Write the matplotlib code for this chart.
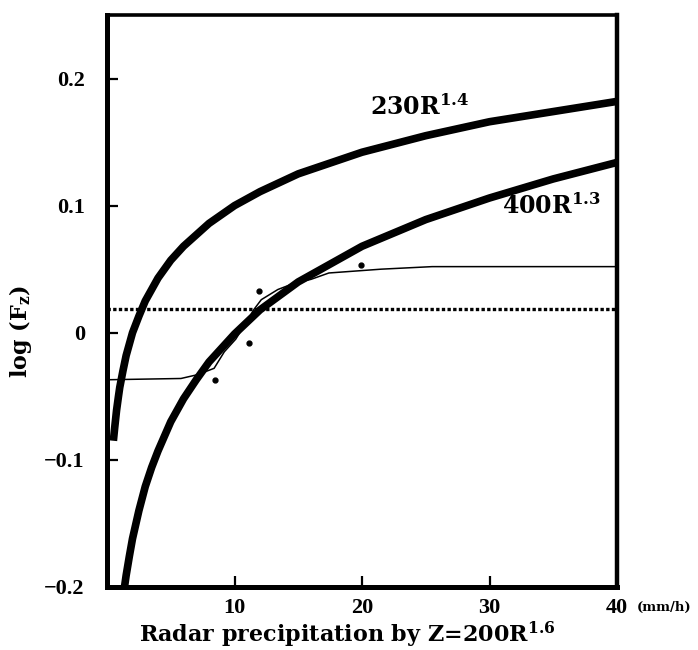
import numpy as np
import matplotlib.pyplot as plt

plt.rcParams['mathtext.fontset'] = 'dejavuserif'

# R (mm/h) by Z=200R^1.6 and log(F_z) for Z=230R^1.4
r_230 = [0.5, 0.6, 0.75, 0.9, 1, 1.25, 1.5, 1.75, 2, 2.5, 3, 3.5, 4, 5, 6, 7, 8,
         10, 12, 15, 20, 25, 30, 35, 40]
f_230 = [-0.085, -0.075, -0.061, -0.050, -0.043, -0.030, -0.018, -0.009, 0.000,
         0.013, 0.025, 0.034, 0.043, 0.057, 0.068, 0.077, 0.086, 0.100, 0.111,
         0.125, 0.142, 0.155, 0.166, 0.174, 0.182]

# same for Z=400R^1.3
r_400 = [1.3, 1.5, 1.75, 2, 2.5, 3, 3.5, 4, 5, 6, 7, 8, 10, 12, 15, 20, 25, 30,
         35, 40]
f_400 = [-0.205, -0.191, -0.176, -0.162, -0.140, -0.121, -0.106, -0.093, -0.070,
         -0.052, -0.037, -0.023, -0.001, 0.018, 0.040, 0.068, 0.089, 0.106,
         0.121, 0.134]

# fitted step curve through the observations
r_fit = [0, 5.8, 7.1, 8.4, 9.2, 10.1, 11.1, 11.5, 12.1, 13.4, 14.7, 16.0, 17.4,
         21.5, 25.5, 40]
f_fit = [-0.037, -0.036, -0.033, -0.028, -0.015, -0.005, 0.011, 0.018, 0.026,
         0.034, 0.039, 0.042, 0.047, 0.050, 0.052, 0.052]

# observed points
r_obs = [8.5, 11.1, 11.9, 19.9]
f_obs = [-0.037, -0.008, 0.033, 0.053]

mean_level = 0.019

fig = plt.figure(figsize=(6.98, 6.5), dpi=100)
ax = fig.add_axes([0.1533, 0.097, 0.7307, 0.88])

ax.plot(r_230, f_230, color='black', lw=5.5, solid_capstyle='butt',
        solid_joinstyle='round')
ax.plot(r_400, f_400, color='black', lw=5.5, solid_capstyle='butt',
        solid_joinstyle='round')
ax.plot(r_fit, f_fit, color='black', lw=1.1)
ax.plot(r_obs, f_obs, 'o', color='black', ms=3.5)
ax.axhline(mean_level, color='black', lw=2.4, linestyle=(0, (1.0, 0.7)))

ax.set_xlim(0, 40)
ax.set_ylim(-0.2, 0.25)

ax.set_xticks([10, 20, 30, 40])
ax.set_xticklabels(['10', '20', '30', '40'])
ax.set_yticks([-0.2, -0.1, 0, 0.1, 0.2])
ax.set_yticklabels(['\u22120.2', '\u22120.1', '0', '0.1', '0.2'])
ax.tick_params(direction='in', length=8, width=1.6, pad=8)
ax.tick_params(axis='y', pad=16)
for lab in ax.get_xticklabels() + ax.get_yticklabels():
    lab.set_fontfamily('Liberation Serif')
    lab.set_fontweight('bold')
    lab.set_fontsize(16)

ax.spines['left'].set_linewidth(3.6)
ax.spines['bottom'].set_linewidth(3.6)
ax.spines['right'].set_linewidth(3.2)
ax.spines['top'].set_linewidth(2.6)

ax.text(20.6, 0.171, r'230R$^{\mathbf{1.4}}$', fontfamily='DejaVu Serif',
        fontweight='bold', fontsize=17, ha='left', va='baseline')
ax.text(31.0, 0.0935, r'400R$^{\mathbf{1.3}}$', fontfamily='DejaVu Serif',
        fontweight='bold', fontsize=17, ha='left', va='baseline')

fig.text(0.912, 0.0655, '(mm/h)', fontfamily='DejaVu Serif', fontweight='bold',
         fontsize=9.5, ha='left', va='center')
fig.text(0.497, 0.023, r'Radar precipitation by Z=200R$^{\mathbf{1.6}}$',
         fontfamily='DejaVu Serif', fontweight='bold', fontsize=16,
         ha='center', va='center')
fig.text(0.03, 0.49, r'log (F$_{\mathbf{z}}$)', fontfamily='DejaVu Serif',
         fontweight='bold', fontsize=16, rotation=90, ha='center', va='center')

fig.savefig('out.png', dpi=100)
